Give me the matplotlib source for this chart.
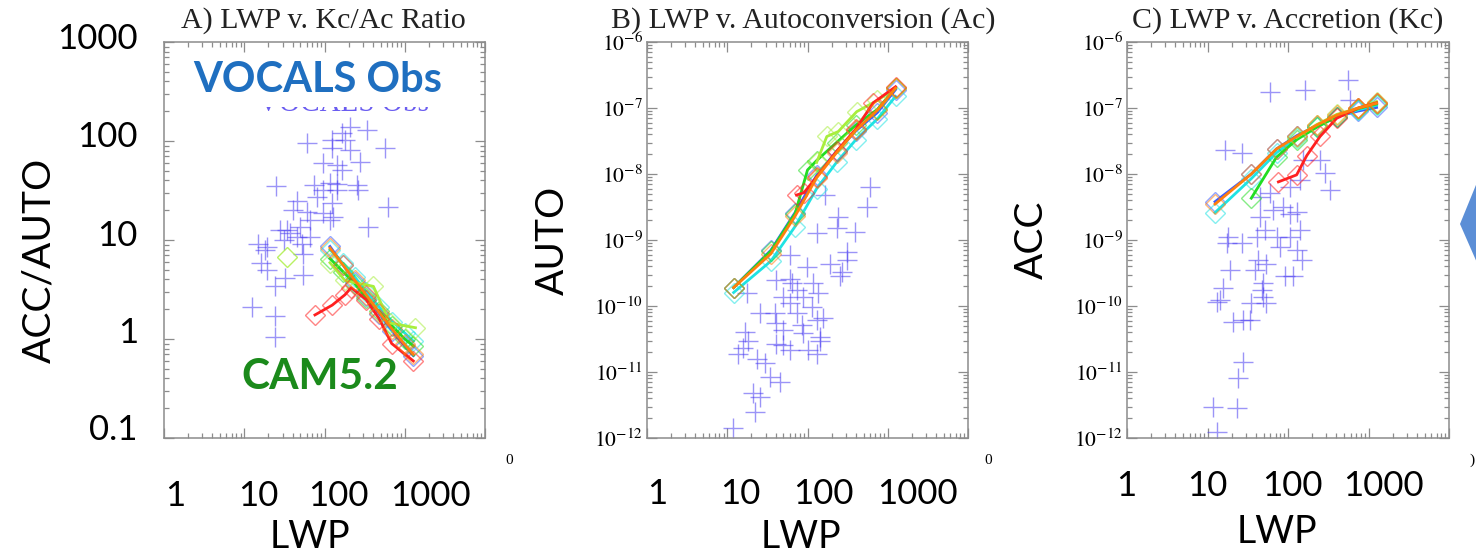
import numpy as np
import matplotlib.pyplot as plt
from matplotlib.ticker import LogLocator, NullFormatter, FuncFormatter
from matplotlib.patches import Polygon, Rectangle

W, H = 1476, 554
plt.rcParams.update({"font.family": "Liberation Serif", "mathtext.fontset": "stix"})

# ---------------------------------------------------------------------------
# data
# ---------------------------------------------------------------------------
MODELS = ["blue", "cyan", "green", "yellowgreen", "red", "orange"]

# A) ACC/AUTO ratio -- VOCALS observations
ratio_obs_lwp = [208, 336, 164, 123, 60, 567, 123, 208, 97, 142, 277, 164, 25, 73, 142,
                 252, 264, 45, 80, 123, 624, 41, 60, 97, 129, 351, 28, 37, 50, 66, 15, 18,
                 31, 52, 54, 16, 19, 54, 32, 24, 12.4, 24, 24, 117, 45, 34,
                 180, 142, 97, 117, 66, 19]
ratio_obs = [140, 129, 120, 102, 95, 84, 84, 81, 60, 57, 62, 51, 35, 36, 37,
             36, 32, 25, 27, 23.5, 21.7, 20, 19.3, 18.6, 17.2, 13.6, 12.6, 11.7, 13.6, 15.9, 9.2, 7.9,
             10, 9.2, 7.3, 5.8, 5.0, 4.4, 4.1, 3.4, 2.1, 1.7, 1.05, 15.9, 10.8, 12.6,
             102, 32, 32, 38, 10.8, 8.5]

# A) CAM5.2 ratio, one series per model
ratio_mod_lwp = {
    "blue":        [117, 170, 240, 330, 480, 700, 1000, 1280],
    "cyan":        [117, 170, 240, 330, 480, 700, 1000, 1280],
    "green":       [117, 170, 240, 330, 480, 700, 1000, 1280],
    "yellowgreen": [117, 180, 407, 654, 1360],
    "red":         [76, 125, 180, 215, 330, 480, 687, 1280],
    "orange":      [117, 170, 240, 330, 480, 700, 1000, 1280],
}
ratio_mod = {
    "blue":        [8.6, 5.6, 3.8, 2.7, 1.8, 1.2, 0.85, 0.68],
    "cyan":        [8.0, 5.8, 4.2, 3.0, 2.1, 1.5, 1.15, 0.95],
    "green":       [6.5, 4.8, 3.6, 2.6, 1.9, 1.35, 1.0, 0.85],
    "yellowgreen": [5.9, 3.9, 3.4, 1.45, 1.3],
    "red":         [1.75, 2.2, 2.8, 3.3, 2.5, 1.6, 0.9, 0.6],
    "orange":      [8.3, 5.6, 3.9, 2.8, 1.85, 1.25, 0.88, 0.7],
}
lone_lwp = [34]
lone_ratio = [6.8]

# B) autoconversion
auto_obs_lwp = [601, 546, 165, 242, 231, 391, 130, 60.5, 308, 308, 191, 267, 254, 98, 60.5,
                41, 17.5, 25.6, 39, 60.5, 89, 118, 136, 73, 113, 130, 41, 50, 85, 89, 143,
                143, 16.6, 18.3, 13.7, 15.9, 23.3, 34, 45, 29.5, 21, 25.6, 22, 11.9, 50,
                60.5, 41, 102, 130, 73, 63.5, 50, 157]
auto_obs = [6.4e-9, 3.2e-9, 4.8e-9, 2.25e-9, 1.5e-9, 1.34e-9, 1.26e-9, 5.9e-10, 6.65e-10,
            5.0e-10, 4.4e-10, 3.3e-10, 2.8e-10, 3.9e-10, 2.6e-10, 2.5e-10, 1.56e-10, 7.7e-11,
            7.7e-11, 1.1e-10, 1.38e-10, 2.2e-10, 1.56e-10, 7.7e-11, 9.8e-11, 6.1e-11, 5.5e-11,
            4.3e-11, 5.2e-11, 3.9e-11, 3.4e-11, 2.9e-11, 4.1e-11, 2.9e-11, 1.9e-11, 2.3e-11,
            1.6e-11, 8.5e-12, 7.1e-12, 1.35e-11, 4.8e-12, 4.2e-12, 2.5e-12, 1.4e-12, 2.6e-11,
            2.15e-11, 2.7e-11, 2.15e-11, 1.9e-11, 1.75e-10, 2.2e-10, 1.38e-10, 6.5e-11]
auto_mod_lwp = {
    "blue":        [12, 35, 70, 130, 230, 400, 740, 1250],
    "cyan":        [12, 35, 70, 130, 230, 400, 740, 1250],
    "green":       [12, 35, 70, 100, 130, 230, 400, 740, 1250],
    "yellowgreen": [130, 174, 242, 410, 740, 1250],
    "red":         [73, 90, 130, 230, 400, 660, 1250],
    "orange":      [12, 35, 70, 130, 230, 400, 740, 1250],
}
auto_mod = {
    "blue":        [1.9e-10, 7.0e-10, 2.6e-9, 9.5e-9, 2.2e-8, 4.5e-8, 8.5e-8, 1.9e-7],
    "cyan":        [1.6e-10, 4.8e-10, 1.6e-9, 6.0e-9, 1.5e-8, 3.3e-8, 6.8e-8, 1.5e-7],
    "green":       [1.9e-10, 6.8e-10, 2.5e-9, 1.15e-8, 1.6e-8, 3.0e-8, 5.5e-8, 9.5e-8, 2.0e-7],
    "yellowgreen": [1.5e-8, 3.7e-8, 4.4e-8, 8.8e-8, 1.3e-7, 2.0e-7],
    "red":         [4.8e-9, 5.2e-9, 9.0e-9, 2.2e-8, 4.8e-8, 1.2e-7, 2.1e-7],
    "orange":      [1.9e-10, 6.2e-10, 2.3e-9, 8.8e-9, 2.1e-8, 4.6e-8, 9.2e-8, 2.0e-7],
}

# C) accretion
acc_obs_lwp = [561, 163, 60, 589, 16.5, 26.6, 250, 155, 288, 141, 332, 106, 60, 45, 87, 66,
               106, 128, 45, 52, 141, 106, 72, 18.1, 17.3, 26.6, 41, 80, 128, 148, 43, 54,
               19, 39, 116, 92, 49, 15.7, 14.3, 13, 35, 47, 49, 54, 21, 28, 34, 28, 24,
               11.8, 23, 13]
acc_obs = [2.65e-7, 1.87e-7, 1.77e-7, 1.32e-7, 2.3e-8, 2.06e-8, 1.63e-8, 1.63e-8, 1.02e-8,
           8.1e-9, 5.7e-9, 6.4e-9, 5.1e-9, 4.5e-9, 3.2e-9, 2.85e-9, 2.5e-9, 2.7e-9, 2.25e-9,
           1.42e-9, 1.42e-9, 1.12e-9, 1.12e-9, 1.12e-9, 8.9e-10, 8.9e-10, 1.12e-9, 7.9e-10,
           7.0e-10, 5.0e-10, 5.0e-10, 4.4e-10, 3.5e-10, 3.5e-10, 2.8e-10, 2.8e-10, 2.2e-10,
           1.85e-10, 1.23e-10, 1.16e-10, 1.1e-10, 1.75e-10, 1.38e-10, 1.1e-10, 5.8e-11,
           6.1e-11, 6.1e-11, 1.44e-11, 8.0e-12, 3.0e-12, 2.8e-12, 1.25e-12]
acc_mod_lwp = {
    "blue":        [12.4, 35, 72, 128, 227, 403, 747, 1260],
    "cyan":        [12.4, 35, 72, 128, 227, 403, 747, 1260],
    "green":       [35, 72, 128, 227, 403, 747, 1260],
    "yellowgreen": [128, 227, 403, 747, 1260],
    "red":         [76, 128, 171, 250, 403, 747, 1260],
    "orange":      [12.4, 35, 72, 128, 227, 403, 747, 1260],
}
acc_mod = {
    "blue":        [3.8e-9, 1.0e-8, 2.4e-8, 3.8e-8, 5.4e-8, 7.4e-8, 9.0e-8, 1.02e-7],
    "cyan":        [2.6e-9, 8.5e-9, 2.1e-8, 3.5e-8, 5.2e-8, 7.3e-8, 9.4e-8, 1.1e-7],
    "green":       [4.3e-9, 1.8e-8, 3.3e-8, 5.1e-8, 7.4e-8, 9.8e-8, 1.15e-7],
    "yellowgreen": [3.6e-8, 5.6e-8, 8.0e-8, 1.0e-7, 1.25e-7],
    "red":         [7.6e-9, 9.7e-9, 1.9e-8, 3.7e-8, 7.0e-8, 1.0e-7, 1.2e-7],
    "orange":      [3.5e-9, 1.0e-8, 2.4e-8, 3.7e-8, 5.5e-8, 7.8e-8, 1.0e-7, 1.18e-7],
}

titles = ["A) LWP v. Kc/Ac Ratio", "B) LWP v. Autoconversion (Ac)", "C) LWP v. Accretion (Kc)"]
xtick_text = ["1", "10", "100", "1000"]
ratio_tick_text = ["1000", "100", "10", "1", "0.1"]

# ---------------------------------------------------------------------------
# styling
# ---------------------------------------------------------------------------
COLORS = {"blue": "#3a5bff", "cyan": "#1fe3e3", "green": "#22dd22",
          "yellowgreen": "#a8ee3c", "red": "#ff2020", "orange": "#ff7f0e"}
OBS_C = "#4a3cf2"
FRAME = "#8c8c8c"
SLIDE_FONT = ["Lato", "DejaVu Sans"]

fig = plt.figure(figsize=(W / 100, H / 100), dpi=100)


def add_panel(x0, y0, x1, y1):
    # pixel box (top-left origin) -> figure fraction
    return fig.add_axes([x0 / W, 1 - y1 / H, (x1 - x0) / W, (y1 - y0) / H])


def style(ax, ylo, yhi, ylabels):
    ax.set_xscale("log"); ax.set_yscale("log")
    ax.set_xlim(1, 1e4); ax.set_ylim(ylo, yhi)
    for sp in ax.spines.values():
        sp.set_color(FRAME); sp.set_linewidth(1.1)
    for axis in (ax.xaxis, ax.yaxis):
        axis.set_major_locator(LogLocator(base=10, numticks=20))
        axis.set_minor_locator(LogLocator(base=10, subs=np.arange(2, 10), numticks=40))
        axis.set_minor_formatter(NullFormatter())
    ax.xaxis.set_major_formatter(NullFormatter())
    if ylabels:
        ax.yaxis.set_major_formatter(FuncFormatter(
            lambda v, p: "$10^{%d}$" % int(round(np.log10(v)))))
    else:
        ax.yaxis.set_major_formatter(NullFormatter())
    ax.tick_params(which="both", direction="in", top=True, right=True,
                   color=FRAME, width=0.9, labelsize=15.5, pad=3)
    ax.tick_params(which="major", length=7)
    ax.tick_params(which="minor", length=3.5)


def draw(ax, obs_x, obs_y, mod_x, mod_y):
    ax.plot(obs_x, obs_y, "+", color=OBS_C, ms=14, mew=1.0, alpha=0.55, ls="none")
    for m in MODELS:
        ax.plot(mod_x[m], mod_y[m], "-", color=COLORS[m], lw=2, zorder=3)
        ax.plot(mod_x[m], mod_y[m], "D", ms=10, mfc="none", mec=COLORS[m],
                mew=1.0, alpha=0.55, ls="none", zorder=3)


axA = add_panel(164, 42, 485, 438)
style(axA, 0.1, 1000, False)
draw(axA, ratio_obs_lwp, ratio_obs, ratio_mod_lwp, ratio_mod)
axA.plot(lone_lwp, lone_ratio, "D", ms=10, mfc="none", mec=COLORS["yellowgreen"],
         mew=1.0, alpha=0.8, ls="none")

axB = add_panel(647, 42, 968, 438)
style(axB, 1e-12, 1e-6, True)
draw(axB, auto_obs_lwp, auto_obs, auto_mod_lwp, auto_mod)

axC = add_panel(1127, 42, 1449, 438)
style(axC, 1e-12, 1e-6, True)
draw(axC, acc_obs_lwp, acc_obs, acc_mod_lwp, acc_mod)

# ---------------------------------------------------------------------------
# slide overlay, in pixel coordinates
# ---------------------------------------------------------------------------
ov = fig.add_axes([0, 0, 1, 1], zorder=10)
ov.set_xlim(0, W); ov.set_ylim(H, 0); ov.axis("off")

for cx, t in zip([323, 803, 1288], titles):
    ov.text(cx, 28, t, ha="center", va="baseline", fontsize=21.5, color="#222222")

# half-hidden original label, covered by the slide text box
ov.text(343, 111, "VOCALS Obs", ha="center", va="baseline", fontsize=21,
        color="#6a5cf0", zorder=1)
ov.add_patch(Rectangle((245, 55), 205, 51.5, fc="white", ec="none", zorder=2))
ov.text(318, 80, "VOCALS Obs", ha="center", va="center", fontsize=30,
        fontweight="bold", color="#1f6fc0", family=SLIDE_FONT, zorder=3)
ov.text(320, 377, "CAM5.2", ha="center", va="center", fontsize=30.5,
        fontweight="bold", color="#1b8a1b", family=SLIDE_FONT, zorder=3)

for cy, t in zip([39, 137, 236, 333, 430], ratio_tick_text):
    ov.text(138, cy, t, ha="right", va="center", fontsize=25, family=SLIDE_FONT)

for xs, cy in [([175, 258, 338, 430], 496), ([657, 740, 823, 917], 494),
               ([1126, 1207, 1292, 1383], 486)]:
    for cx, t in zip(xs, xtick_text):
        ov.text(cx, cy, t, ha="center", va="center", fontsize=25, family=SLIDE_FONT)

for cx, cy in [(310, 537), (801, 537), (1277, 532)]:
    ov.text(cx, cy, "LWP", ha="center", va="center", fontsize=27, family=SLIDE_FONT)

ov.text(39, 260, "ACC/AUTO", ha="center", va="center", rotation=90, fontsize=28,
        family=SLIDE_FONT)
ov.text(553, 240, "AUTO", ha="center", va="center", rotation=90, fontsize=28,
        family=SLIDE_FONT)
ov.text(1032, 240, "ACC", ha="center", va="center", rotation=90, fontsize=28,
        family=SLIDE_FONT)

# leftovers of the original figure at the edges
ov.text(509, 460, "0", ha="center", va="center", fontsize=11)
ov.text(988, 460, "0", ha="center", va="center", fontsize=11)
ov.text(1472, 460, ")", ha="center", va="center", fontsize=11)
ov.add_patch(Polygon([(1478, 180), (1460, 224), (1478, 265)], closed=True,
                     fc="#5b8ed6", ec="none"))

fig.savefig("out.png", dpi=100)
